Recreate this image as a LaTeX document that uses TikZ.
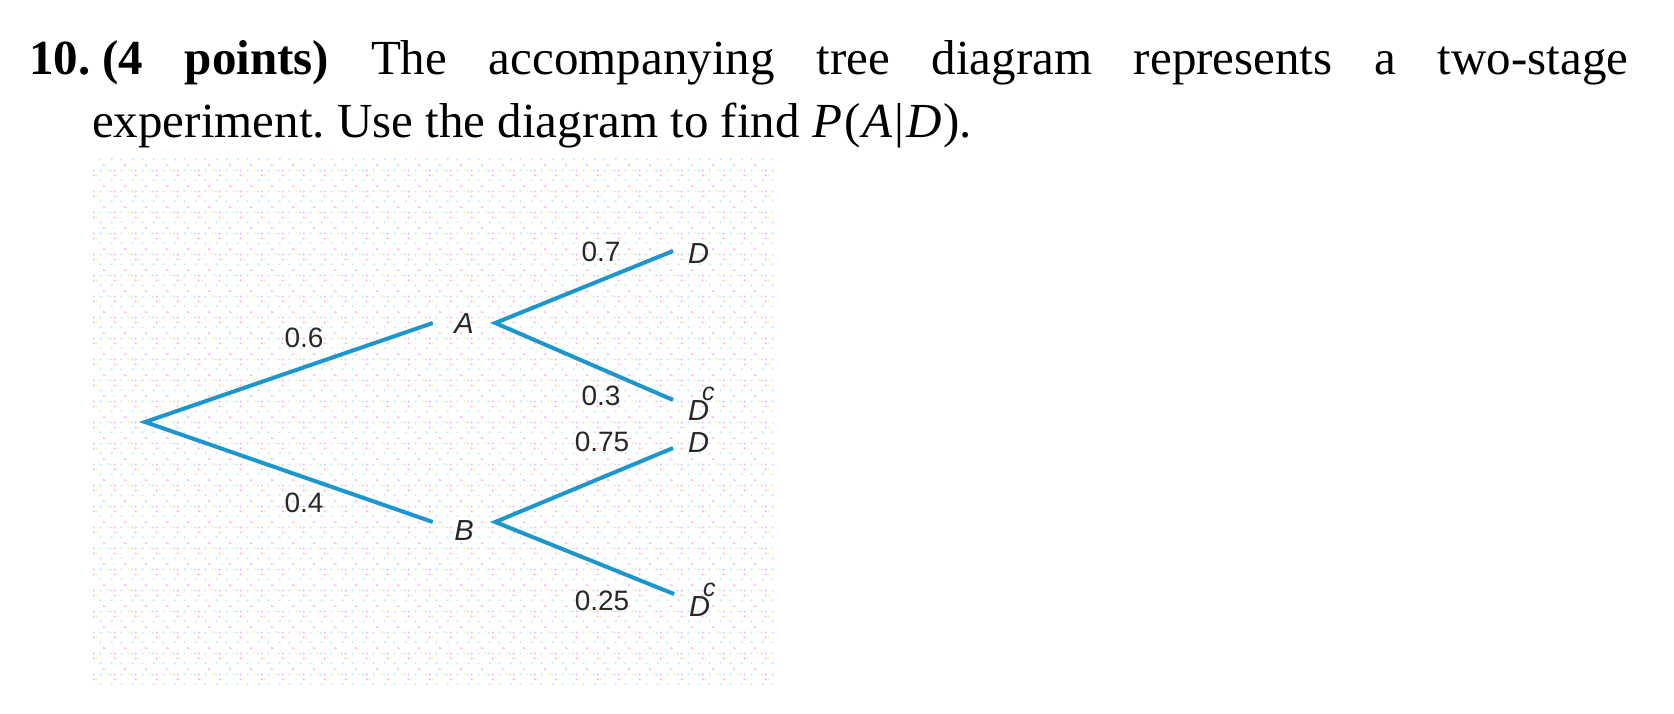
\documentclass[tikz,border=0pt]{standalone}
\usepackage{fontspec}
\setmainfont{Liberation Serif}
\setsansfont{Liberation Sans}
\usetikzlibrary{patterns}
\frenchspacing
\definecolor{branch}{RGB}{28,150,205}
\definecolor{lblgray}{RGB}{40,40,40}
\definecolor{dotpink}{RGB}{248,185,238}
\definecolor{dotcyan}{RGB}{185,236,252}
\definecolor{dotyellow}{RGB}{252,244,170}
\pgfdeclarepatterninherentlycolored{pastel}{\pgfqpoint{0pt}{0pt}}{\pgfqpoint{21.33pt}{21.33pt}}{\pgfqpoint{21.33pt}{21.33pt}}{%
 \pgfsetfillcolor{dotyellow}%
 \pgfpathcircle{\pgfqpoint{1.5pt}{19.5pt}}{1.2pt}%
 \pgfpathcircle{\pgfqpoint{12pt}{14pt}}{1.2pt}%
 \pgfusepath{fill}%
 \pgfsetfillcolor{dotcyan}%
 \pgfpathcircle{\pgfqpoint{5pt}{19pt}}{1.2pt}%
 \pgfpathcircle{\pgfqpoint{16pt}{19pt}}{1.2pt}%
 \pgfpathcircle{\pgfqpoint{6pt}{9pt}}{1.2pt}%
 \pgfpathcircle{\pgfqpoint{16pt}{9pt}}{1.2pt}%
 \pgfusepath{fill}%
 \pgfsetfillcolor{dotpink}%
 \pgfpathcircle{\pgfqpoint{9pt}{19pt}}{1.2pt}%
 \pgfpathcircle{\pgfqpoint{9pt}{14pt}}{1.2pt}%
 \pgfpathcircle{\pgfqpoint{19.5pt}{3pt}}{1.2pt}%
 \pgfusepath{fill}%
}
\newcommand\myDc{D\kern-7pt\raisebox{20pt}{\fontsize{25}{25}\selectfont c}}
\begin{document}
\begin{tikzpicture}[x=1pt,y=-1pt,
  titlefont/.style={font=\fontsize{49}{54}\selectfont},
  branchline/.style={draw=branch, line width=4pt, line join=miter},
  prob/.style={font=\fontsize{28}{28}\selectfont\sffamily, text=lblgray, inner sep=0pt},
  evt/.style={font=\fontsize{29}{29}\selectfont\sffamily\itshape, text=lblgray, inner sep=0pt},
  mid/.style={evt, minimum width=62pt},
  leaf/.style={evt, anchor=west, inner xsep=15pt, inner ysep=0pt}]
\useasboundingbox (0,0) rectangle (1674,714);
\fill[white] (0,0) rectangle (1674,714);
\fill[pattern=pastel] (93,158) rectangle (775,687);

% title
\node[titlefont, anchor=base west, inner sep=0pt] (t1) at (29,75)
  {\makebox[1599pt][s]{\textbf{10.\kern12pt(4 points)} The accompanying tree diagram represents a two-stage}};
\node[titlefont, anchor=base west, inner sep=0pt] (t2) at (92,138)
  {experiment. Use the diagram to find \textit{P}\kern3pt(\kern1pt\textit{A}\kern2pt|\kern2pt\textit{D}\kern2pt).};

% tree
\coordinate (root) at (145,422);
\node[mid, text height=20pt, text depth=0pt] (A) at (464,323) {A};
\node[mid, text height=36pt, text depth=0pt] (B) at (464,522) {B};
\node[leaf, text height=26pt, text depth=0pt] (AD) at (673,251) {D};
\node[leaf, text height=40pt, text depth=0pt] (ADc) at (673,400) {\myDc};
\node[leaf, text height=20pt, text depth=12pt] (BD) at (673,448) {D};
\node[leaf, text height=44pt, text depth=0pt] (BDc) at (674,594) {\myDc};

\draw[branchline] (A.west) -- (root) -- (B.west);
\draw[branchline] (AD.west) -- (A.east) -- (ADc.west);
\draw[branchline] (BD.west) -- (B.east) -- (BDc.west);

\node[prob] (pA) at (304,338) {0.6};
\node[prob] (pB) at (304,503) {0.4};
\node[prob] (pAD) at (601,252) {0.7};
\node[prob] (pADc) at (601,396) {0.3};
\node[prob] (pBD) at (602,442) {0.75};
\node[prob] (pBDc) at (602,601) {0.25};
\end{tikzpicture}
\end{document}
